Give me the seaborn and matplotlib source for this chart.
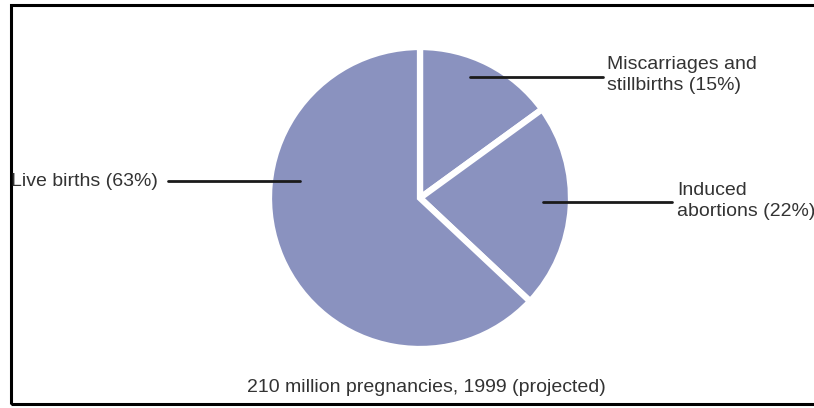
import matplotlib
matplotlib.use("Agg")
import matplotlib.pyplot as plt
import matplotlib.patches as mpatches
import seaborn as sns

# data
categories = ["Miscarriages and\nstillbirths", "Induced\nabortions", "Live births"]
shares = [15, 22, 63]
caption = "210 million pregnancies, 1999 (projected)"

sns.set_theme(style="white")
plt.rcParams["font.family"] = ["Liberation Sans Narrow", "Liberation Sans", "DejaVu Sans"]

pie_color = "#8a92bf"
text_color = "#333333"
fs = 14

fig = plt.figure(figsize=(8.14, 4.08), dpi=100)
ax = fig.add_axes([0, 0, 1, 1])

# pixel coordinates, y going up
cx, cy, r = 420, 408 - 198, 151
wedges, _ = ax.pie(
    shares,
    colors=[pie_color] * len(shares),
    startangle=90,
    counterclock=False,
    center=(cx, cy),
    radius=r,
    wedgeprops=dict(edgecolor="white", linewidth=4.5),
)
ax.set_xlim(0, 814)
ax.set_ylim(0, 408)
ax.set_aspect("auto")
ax.axis("off")

# frame (right side runs off the image)
ax.add_patch(mpatches.Rectangle((11, 4), 900, 399, fill=False,
                                edgecolor="black", linewidth=2.2, clip_on=False))

lbls = [f"{c} ({s}%)" for c, s in zip(categories, shares)]

# leader lines and labels
ax.plot([470, 603], [408 - 77, 408 - 77], color="#1a1a1a", lw=2)
ax.text(607, 408 - 75, lbls[0], ha="left", va="center", fontsize=fs,
        color=text_color, linespacing=1.3)

ax.plot([543, 672], [408 - 202, 408 - 202], color="#1a1a1a", lw=2)
ax.text(677, 408 - 201, lbls[1], ha="left", va="center", fontsize=fs,
        color=text_color, linespacing=1.3)

ax.plot([168, 300], [408 - 181, 408 - 181], color="#1a1a1a", lw=2)
ax.text(11, 408 - 181, lbls[2], ha="left", va="center", fontsize=fs,
        color=text_color)

ax.text(426, 408 - 387, caption, ha="center", va="center", fontsize=fs,
        color=text_color)

fig.savefig("out.png", dpi=100)
